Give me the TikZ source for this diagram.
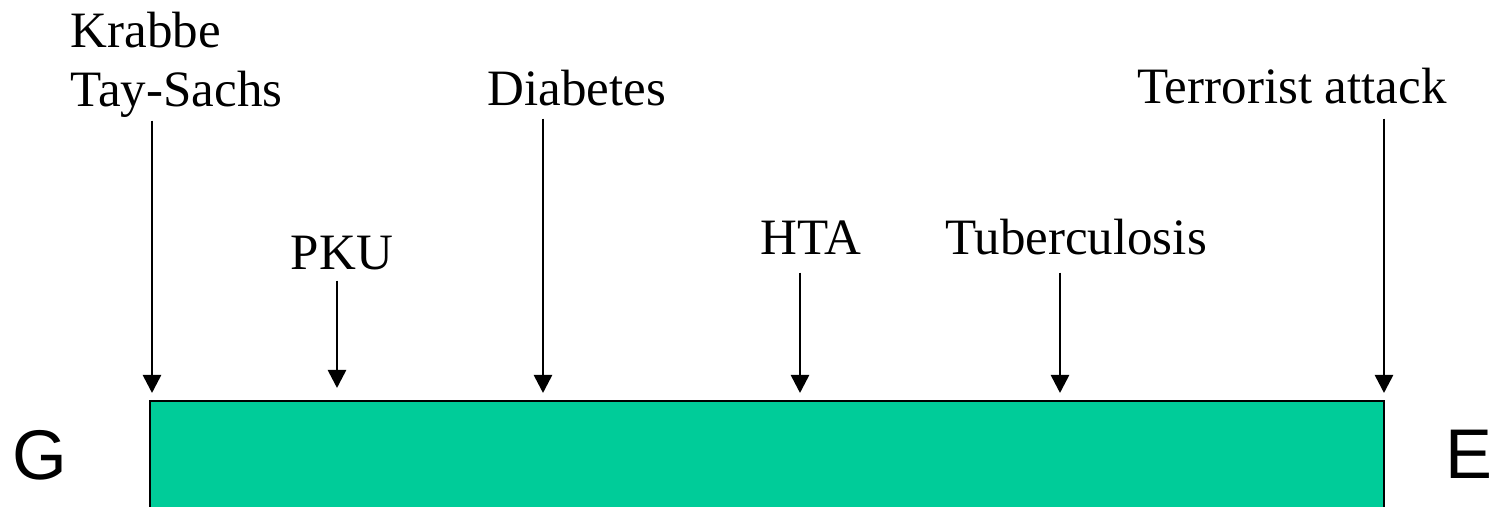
\documentclass[tikz,border=0pt]{standalone}
\usepackage{fontspec}
\setmainfont{Liberation Serif}
\newfontfamily\scrsans{Liberation Sans}
\usetikzlibrary{arrows.meta}

\definecolor{scrteal}{RGB}{0,204,153}

\tikzset{scrlab/.style={font=\fontsize{14.5}{17}\selectfont,inner sep=0pt,text depth=0pt},
         scrend/.style={font=\scrsans\fontsize{20}{24}\selectfont,inner sep=0pt,anchor=base},
         scrarr/.style={-{Triangle[length=0.18cm,width=0.18cm]},line width=0.75pt},
         scrbar/.style={draw=black,line width=0.6pt,fill=scrteal}}

\begin{document}
\begin{tikzpicture}[x=0.01cm,y=-0.01cm]
    \useasboundingbox (0,0) rectangle (1490,507);
    \clip (0,0) rectangle (1490,507);
    \draw[scrbar] (150,401) rectangle (1384,540);
    \node[scrend] (g) at (40,480) {G};
    \node[scrend] (e) at (1469,479) {E};
    \node[scrlab,align=left,anchor=base west] (krabbe) at (70,107) {Krabbe\\Tay-Sachs};
    \node[scrlab,anchor=base] (pku) at (342,270) {PKU};
    \node[scrlab,anchor=base] (diab) at (577,106) {Diabetes};
    \node[scrlab,anchor=base] (hta) at (811,255) {HTA};
    \node[scrlab,anchor=base] (tb) at (1076,255) {Tuberculosis};
    \node[scrlab,anchor=base] (terr) at (1292,104) {Terrorist attack};
    \foreach \n/\x/\y/\g in {krabbe/152/393/13,pku/337/388/10,diab/543/393/12,hta/800/393/17,tb/1060/393/17,terr/1384/393/14}
      {\coordinate (\n-tip) at (\x,\y); \draw[scrarr,shorten <=\g*0.01cm] (\n.south -| \n-tip) -- (\n-tip);}
  \end{tikzpicture}
\end{document}
